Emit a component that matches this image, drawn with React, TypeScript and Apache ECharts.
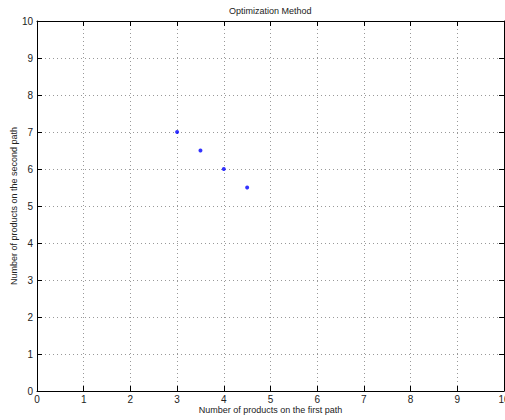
import React, { useEffect, useRef } from "react";
import * as echarts from "echarts";

const titleText = "Optimization Method";
const xName = "Number of products on the first path";
const yName = "Number of products on the second path";
const xValues = [3, 3.5, 4, 4.5];
const yValues = [7, 6.5, 6, 5.5];

export default function App() {
  const ref = useRef<HTMLDivElement>(null);
  useEffect(() => {
    document.body.style.margin = "0";
    const chart = echarts.init(ref.current!, null, { renderer: "svg" });
    const font = "'Liberation Sans', Arial, sans-serif";
    const lbl = { color: "#222", fontSize: 10, fontFamily: font };
    const nameStyle = { color: "#222", fontSize: 9, fontFamily: font };
    const gridLine = { show: true, lineStyle: { color: "#999", type: [1, 3] as any, width: 1 } };
    const axisLine = { show: true, onZero: false, lineStyle: { color: "#000", width: 1 } };
    const tick = { show: true, inside: true, length: 5, lineStyle: { color: "#000" } };
    chart.setOption({
      animation: false,
      backgroundColor: "#fff",
      title: {
        text: titleText,
        left: 229,
        top: 6,
        padding: 0,
        textStyle: { ...nameStyle, fontWeight: "normal" },
      },
      grid: { left: 37, top: 21, right: 1, bottom: 29, containLabel: false, outerBoundsMode: "none" },
      xAxis: [
        {
          type: "value",
          min: 0,
          max: 10,
          interval: 1,
          name: xName,
          nameLocation: "middle",
          nameGap: 14,
          nameMoveOverlap: false,
          nameTextStyle: nameStyle,
          axisLine,
          axisTick: tick,
          axisLabel: { ...lbl, margin: 3 },
          splitLine: gridLine,
        },
        {
          type: "value",
          position: "top",
          min: 0,
          max: 10,
          interval: 1,
          axisLine,
          axisTick: tick,
          axisLabel: { show: false },
          splitLine: { show: false },
        },
      ],
      yAxis: [
        {
          type: "value",
          min: 0,
          max: 10,
          interval: 1,
          name: yName,
          nameLocation: "middle",
          nameGap: 19,
          nameMoveOverlap: false,
          nameTextStyle: nameStyle,
          axisLine,
          axisTick: tick,
          axisLabel: { ...lbl, margin: 4 },
          splitLine: gridLine,
        },
        {
          type: "value",
          position: "right",
          min: 0,
          max: 10,
          interval: 1,
          axisLine,
          axisTick: tick,
          axisLabel: { show: false },
          splitLine: { show: false },
        },
      ],
      series: [
        {
          type: "scatter",
          data: xValues.map((x, i) => [x, yValues[i]]),
          symbol: "circle",
          symbolSize: 4,
          itemStyle: { color: "#0000ff" },
        },
      ],
    });
    return () => chart.dispose();
  }, []);
  return <div ref={ref} style={{ width: 505, height: 420 }} />;
}
